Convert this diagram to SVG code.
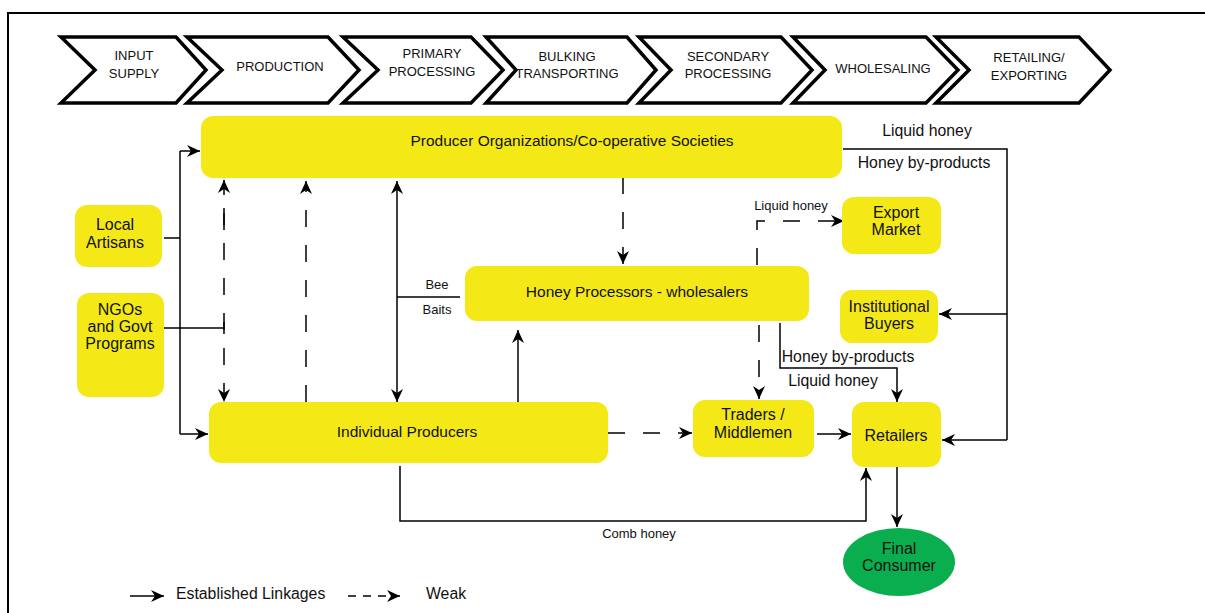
<svg xmlns="http://www.w3.org/2000/svg" width="1205" height="613" viewBox="0 0 1205 613">
<style>
.chev{fill:#fff;stroke:#000;stroke-width:3.5;stroke-linejoin:miter}
.ct{font-family:"Liberation Sans",Arial,sans-serif;font-size:13px;fill:#111;text-anchor:middle}
.box{fill:#F4E917}
.t{font-family:"Liberation Sans",Arial,sans-serif;font-size:15.5px;fill:#111;text-anchor:middle}
.t2{font-family:"Liberation Sans",Arial,sans-serif;font-size:16px;fill:#111;text-anchor:middle}
.s{font-family:"Liberation Sans",Arial,sans-serif;font-size:13px;fill:#111;text-anchor:middle}
.l{font-family:"Liberation Sans",Arial,sans-serif;font-size:15.8px;fill:#111;text-anchor:middle}
.c{fill:none;stroke:#000;stroke-width:1.5}
.d{fill:none;stroke:#000;stroke-width:1.5;stroke-dasharray:17 18}
</style>
<defs>
<marker id="a" markerUnits="userSpaceOnUse" markerWidth="14" markerHeight="12" refX="13" refY="6" orient="auto">
<path d="M0,0 L13,6 L0,12 L4,6 z" fill="#000"/>
</marker>
</defs>
<rect width="1205" height="613" fill="#fff"/>
<path d="M8,613 V13 H1205" fill="none" stroke="#000" stroke-width="2"/>

<g id="chevrons">
<g id="stage1"><polygon class="chev" points="61,37 176,37 206,70 176,103 61,103 95,70"/><text class="ct" x="134" y="60">INPUT</text><text class="ct" x="134" y="78">SUPPLY</text></g>
<g id="stage2"><polygon class="chev" points="187,37 328,37 359,70 328,103 187,103 222,70"/><text class="ct" x="280" y="71">PRODUCTION</text></g>
<g id="stage3"><polygon class="chev" points="343,37 471,37 503,70 471,103 343,103 378,70"/><text class="ct" x="432" y="58">PRIMARY</text><text class="ct" x="432" y="76">PROCESSING</text></g>
<g id="stage4"><polygon class="chev" points="486,37 627,37 656,70 627,103 486,103 516,70"/><text class="ct" x="567" y="61">BULKING</text><text class="ct" x="567" y="78">TRANSPORTING</text></g>
<g id="stage5"><polygon class="chev" points="639,37 781,37 812,70 781,103 639,103 671,70"/><text class="ct" x="728" y="61">SECONDARY</text><text class="ct" x="728" y="78">PROCESSING</text></g>
<g id="stage6"><polygon class="chev" points="793,37 926,37 958,70 926,103 793,103 825,70"/><text class="ct" x="883" y="73">WHOLESALING</text></g>
<g id="stage7"><polygon class="chev" points="936,37 1079,37 1110,70 1079,103 936,103 969,70"/><text class="ct" x="1029" y="62">RETAILING/</text><text class="ct" x="1029" y="80">EXPORTING</text></g>
</g>

<g id="connectors">
<path class="c" d="M164,238 H180"/>
<path class="c" d="M180,151 V434"/>
<path class="c" d="M180,151 H200" marker-end="url(#a)"/>
<path class="c" d="M180,434 H208" marker-end="url(#a)"/>
<path class="c" d="M164,328 H224"/>
<path class="c" d="M224,322 V334"/>
<path class="d" d="M224,230 V180" marker-end="url(#a)"/>
<path class="d" d="M224,208 V402" marker-end="url(#a)"/>
<path class="d" d="M306,402 V181" marker-end="url(#a)"/>
<path class="c" d="M397,290 V181" marker-end="url(#a)"/>
<path class="c" d="M397,290 V402" marker-end="url(#a)"/>
<path class="c" d="M397,297 H460"/>
<path class="c" d="M518,404 V330" marker-end="url(#a)"/>
<path class="d" d="M623,177 V264" marker-end="url(#a)"/>
<path class="d" d="M757,265 V221 H844" marker-end="url(#a)"/>
<path class="c" d="M843,149 H1007 V440"/>
<path class="c" d="M1007,314 H939" marker-end="url(#a)"/>
<path class="c" d="M1007,440 H942" marker-end="url(#a)"/>
<path class="d" d="M759,325 V399" marker-end="url(#a)"/>
<path class="c" d="M780,323 V368 H897 V402" marker-end="url(#a)"/>
<path class="d" d="M608,433 H692" marker-end="url(#a)"/>
<path class="c" d="M817,434 H851" marker-end="url(#a)"/>
<path class="c" d="M400,466 V521 H866 V468" marker-end="url(#a)"/>
<path class="c" d="M897,467 V527" marker-end="url(#a)"/>
</g>

<g id="labels">
<text class="s" x="437" y="289">Bee</text>
<text class="s" x="437" y="314">Baits</text>
<text class="s" x="791" y="210">Liquid honey</text>
<text class="l" x="927" y="136">Liquid honey</text>
<text class="l" x="924" y="168">Honey by-products</text>
<text class="l" x="848" y="362">Honey by-products</text>
<text class="l" x="833" y="386">Liquid honey</text>
<text class="s" x="639" y="538">Comb honey</text>
</g>

<g id="producer-orgs"><rect class="box" x="201" y="116" width="641" height="62" rx="12"/><text class="t" x="572" y="146">Producer Organizations/Co-operative Societies</text></g>
<g id="local-artisans"><rect class="box" x="75" y="205" width="87" height="62" rx="12"/><text class="t2" x="115" y="230">Local</text><text class="t2" x="115" y="248">Artisans</text></g>
<g id="ngos"><rect class="box" x="77" y="293" width="87" height="104" rx="12"/><text class="t2" x="120" y="315">NGOs</text><text class="t2" x="120" y="332">and Govt</text><text class="t2" x="120" y="349">Programs</text></g>
<g id="processors"><rect class="box" x="465" y="266" width="344" height="55" rx="12"/><text class="t" x="637" y="297">Honey Processors - wholesalers</text></g>
<g id="individual"><rect class="box" x="209" y="402" width="399" height="61" rx="12"/><text class="t" x="407" y="437">Individual Producers</text></g>
<g id="export"><rect class="box" x="842" y="197" width="99" height="57" rx="12"/><text class="t2" x="896" y="218">Export</text><text class="t2" x="896" y="235">Market</text></g>
<g id="institutional"><rect class="box" x="840" y="290" width="98" height="53" rx="12"/><text class="t2" x="889" y="312">Institutional</text><text class="t2" x="889" y="329">Buyers</text></g>
<g id="traders"><rect class="box" x="693" y="400" width="121" height="57" rx="12"/><text class="t2" x="753" y="420">Traders /</text><text class="t2" x="753" y="438">Middlemen</text></g>
<g id="retailers"><rect class="box" x="852" y="402" width="89" height="65" rx="12"/><text class="t2" x="896" y="441">Retailers</text></g>
<g id="consumer"><ellipse cx="899" cy="562" rx="56" ry="34" fill="#0AAE4F"/><text class="t2" x="899" y="554">Final</text><text class="t2" x="899" y="571">Consumer</text></g>

<g id="legend">
<path class="c" d="M130,596 H164" marker-end="url(#a)"/>
<text class="l" x="176" y="599" style="text-anchor:start">Established Linkages</text>
<path class="c" d="M348,596 H400" stroke-dasharray="8 7" marker-end="url(#a)"/>
<text class="l" x="426" y="599" style="text-anchor:start">Weak</text>
</g>
</svg>
